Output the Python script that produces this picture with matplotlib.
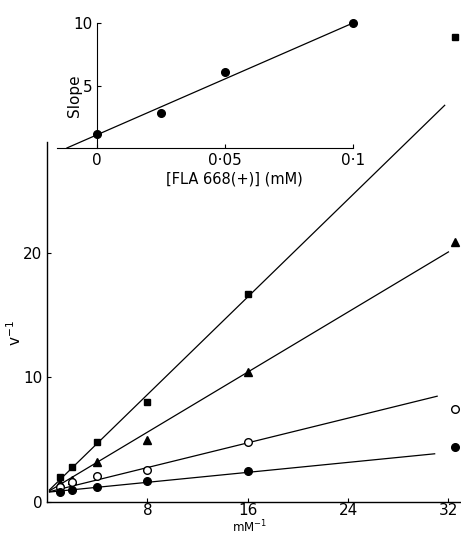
import matplotlib
matplotlib.use("Agg")
import matplotlib.pyplot as plt
import numpy as np

# main plot: reciprocal substrate concentration (mM^-1) vs v^-1
x_recip = [1, 2, 4, 8, 16, 32.5]
v_square = [2.0, 2.8, 4.8, 8.0, 16.7, 37.3]
v_triangle = [1.5, 1.8, 3.2, 5.0, 10.4, 20.9]
v_open = [1.2, 1.6, 2.1, 2.6, 4.8, 7.5]
v_filled = [0.8, 1.0, 1.2, 1.7, 2.5, 4.4]

# hand-drawn fit lines (common intercept)
line_intercept = 0.78
line_slopes = [0.98, 0.603, 0.248, 0.100]
line_x_start = 0.2
line_x_end = [31.7, 32.0, 31.1, 30.9]

# inset: slope vs [FLA 668(+)]
inset_conc = [0.0, 0.025, 0.05, 0.1]
inset_slope = [1.1, 2.8, 6.1, 10.0]
inset_fit_intercept = 1.06
inset_fit_slope = 89.4
inset_fit_x = [-0.0118, 0.1]

main_xticks = [8, 16, 24, 32]
main_yticks = [0, 10, 20]
inset_xticks = [0, 0.05, 0.1]
inset_xticklabels = ["0", "0\u00b705", "0\u00b71"]
inset_yticks = [5, 10]

fig = plt.figure(figsize=(4.61, 5.35), dpi=100)
W, H = 461, 535

ax = fig.add_axes([47 / W, 1 - 502 / H, 414 / W, 360 / H])
ax.set_xlim(0, 33)
ax.set_ylim(0, 28.9)
for side in ("top", "right"):
    ax.spines[side].set_visible(False)
for side in ("left", "bottom"):
    ax.spines[side].set_linewidth(1.0)

series = [
    (v_square, dict(marker="s", mfc="black", ms=5)),
    (v_triangle, dict(marker="^", mfc="black", ms=6)),
    (v_open, dict(marker="o", mfc="white", ms=5.5)),
    (v_filled, dict(marker="o", mfc="black", ms=5.5)),
]
for (vals, style), slope, xe in zip(series, line_slopes, line_x_end):
    xs = np.array([line_x_start, xe])
    ax.plot(xs, line_intercept + slope * xs, color="black", lw=0.9,
            clip_on=False)
    ax.plot(x_recip, vals, ls="none", mec="black", mew=1.0,
            clip_on=False, zorder=3, **style)

ax.set_xticks(main_xticks)
ax.set_yticks(main_yticks)
ax.tick_params(direction="in", length=3, labelsize=11, width=0.8)
ax.tick_params(axis="x", pad=1)
ax.set_xlabel("mM$^{-1}$", fontsize=8.5)
ax.xaxis.set_label_coords(0.49, -0.047)
ax.set_ylabel("v$^{-1}$", fontsize=11)
ax.yaxis.set_label_coords(-0.055, 0.47)

# inset
ins = fig.add_axes([57 / W, 1 - 148 / H, 296 / W, 125 / H])
ins.patch.set_visible(False)
ins.set_xlim(-0.0157, 0.1)
ins.set_ylim(0, 10)
ins.spines["left"].set_position(("data", 0))
for side in ("top", "right"):
    ins.spines[side].set_visible(False)
fx = np.array(inset_fit_x)
ins.plot(fx, inset_fit_intercept + inset_fit_slope * fx, color="black",
         lw=0.9, clip_on=False)
ins.plot(inset_conc, inset_slope, "o", color="black", ms=5.5, clip_on=False,
         zorder=3)
ins.set_xticks(inset_xticks)
ins.set_xticklabels(inset_xticklabels)
ins.set_yticks(inset_yticks)
ins.tick_params(direction="in", length=3, labelsize=11, width=0.8)
ins.set_xlabel("[FLA 668(+)] (mM)", fontsize=10.5)
ins.xaxis.set_label_coords(0.60, -0.19)
ins.set_ylabel("Slope", fontsize=11)
ins.yaxis.set_label_coords(0.084, 0.42)

fig.savefig("out.png", dpi=100)
